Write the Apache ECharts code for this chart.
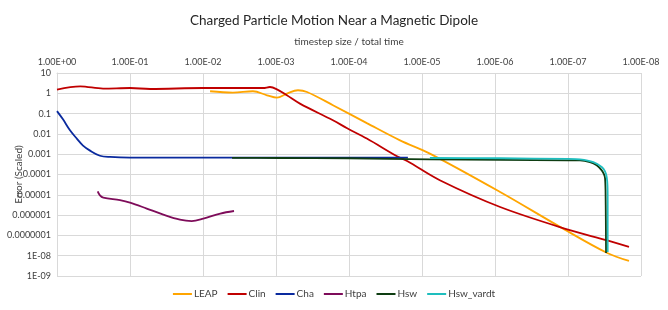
<!DOCTYPE html>
<html>
<head>
<meta charset="utf-8">
<script src="https://cdn.jsdelivr.net/npm/echarts@6/dist/echarts.min.js"></script>
<style>html,body{margin:0;padding:0;background:#fff}#c{width:668px;height:310px}</style>
</head>
<body>
<div id="c"></div>
<script>
const seriesNames = ['LEAP', 'Clin', 'Cha', 'Htpa', 'Hsw', 'Hsw_vardt'];
const xTickLabels = ['1.00E+00','1.00E-01','1.00E-02','1.00E-03','1.00E-04','1.00E-05','1.00E-06','1.00E-07','1.00E-08'];
const yTickLabels = ['1E-09','1E-08','0.0000001','0.000001','0.00001','0.0001','0.001','0.01','0.1','1','10'];

const leap = [[8.0e-3,1.26],[3.9e-3,1.08],[2.07e-3,1.26],[1.33e-3,0.80],[9.7e-4,0.61],[7.1e-4,0.97],[5.0e-4,1.41],[3.76e-4,1.16],[1.66e-4,0.26],[5.7e-5,0.034],[2.0e-5,0.0048],[7.8e-6,0.00107],[8.5e-7,1.37e-5],[1.17e-7,2.16e-7],[2.9e-8,1.36e-8],[1.46e-8,5.5e-9]];
const clin = [[1.0,1.52],[0.48,2.21],[0.234,1.71],[0.1,1.82],[0.053,1.63],[0.01,1.82],[0.0015,1.82],[1.21e-3,2.04],[9.7e-4,1.57],[7.1e-4,0.80],[4.7e-4,0.31],[1.66e-4,0.047],[1.06e-4,0.019],[5.7e-5,0.0059],[2.2e-5,7.9e-4],[1.6e-5,4.6e-4],[5.7e-6,5.2e-5],[8.5e-7,2.5e-6],[1.0e-7,1.93e-7],[2.9e-8,5.7e-8],[1.46e-8,2.7e-8]];
const cha = [[1.0,0.133],[0.828,0.052],[0.664,0.015],[0.532,0.0057],[0.44,0.00266],[0.353,0.0015],[0.258,8.4e-4],[0.188,7.3e-4],[0.1,6.8e-4],[0.01,6.8e-4],[8.8e-4,6.8e-4],[1e-4,6.8e-4],[1.56e-5,6.8e-4]];
const htpa = [[0.277,1.49e-5],[0.258,9.4e-6],[0.232,7.3e-6],[0.137,5.4e-6],[0.1,4.1e-6],[0.059,2.1e-6],[0.035,1.06e-6],[0.0207,6.0e-7],[0.0143,5.1e-7],[0.0099,6.7e-7],[0.0058,1.19e-6],[0.00376,1.59e-6]];
const hsw = [[4.0e-3,6.65e-4],[8.8e-4,6.5e-4],[1e-4,6.3e-4],[7.8e-6,5.6e-4],[8.5e-7,5.3e-4],[1e-7,5.0e-4],[6.85e-8,5.0e-4],[5.0e-8,4.1e-4],[4.05e-8,2.84e-4],[3.45e-8,1.6e-4],[3.21e-8,1.02e-4],[3.11e-8,6.5e-5],[3.06e-8,1.67e-5],[3.03e-8,5.5e-7],[3.01e-8,1.36e-8]];
const hswVardt = [[7.8e-6,6.5e-4],[8.5e-7,6.3e-4],[1e-7,5.9e-4],[6.85e-8,5.6e-4],[4.5e-8,4.1e-4],[3.45e-8,2.34e-4],[3.11e-8,1.44e-4],[2.95e-8,7.5e-5],[2.88e-8,2.94e-5],[2.86e-8,5.4e-6],[2.86e-8,1.52e-8]];

const seriesData = [leap, clin, cha, htpa, hsw, hswVardt];
const colors = ['#FFA500', '#C00000', '#0A2A9E', '#7E0C5A', '#0E3D12', '#1EBEBE'];
const smoothing = [0.35, 0.35, 0.35, 0.35, 0.2, 0.2];

const chart = echarts.init(document.getElementById('c'));
const fontFam = 'Lato, "Open Sans", sans-serif';
chart.setOption({
  animation: false,
  title: {
    text: 'Charged Particle Motion Near a Magnetic Dipole',
    left: 'center', top: 9,
    textStyle: { fontFamily: fontFam, fontSize: 13.5, fontWeight: 'normal', color: '#262626' }
  },
  legend: {
    bottom: 6, left: 'center',
    icon: 'rect', itemWidth: 19, itemHeight: 2, itemGap: 10,
    textStyle: { fontFamily: fontFam, fontSize: 10, color: '#404040', padding: [0,0,0,-3] },
    data: seriesNames
  },
  grid: { left: 57, right: 27, top: 73, bottom: 34, containLabel: false, outerBoundsMode: 'none' },
  xAxis: {
    type: 'log', logBase: 10, min: 1e-8, max: 1, inverse: true, position: 'top',
    name: 'timestep size / total time', nameLocation: 'middle', nameGap: 26, nameMoveOverlap: false,
    nameTextStyle: { fontFamily: fontFam, fontSize: 10, color: '#404040' },
    axisLine: { show: true, lineStyle: { color: '#d9d9d9' } },
    axisTick: { show: false },
    axisLabel: { fontFamily: fontFam, fontSize: 9, color: '#404040', margin: 6,
      formatter: v => xTickLabels[Math.round(-Math.log10(v))] },
    splitLine: { show: true, lineStyle: { color: '#d9d9d9', width: 1 } }
  },
  yAxis: {
    type: 'log', logBase: 10, min: 1e-9, max: 10,
    name: 'Error (Scaled)', nameLocation: 'middle', nameGap: 33, nameMoveOverlap: false,
    nameTextStyle: { fontFamily: fontFam, fontSize: 10, color: '#404040' },
    axisLine: { show: true, lineStyle: { color: '#d9d9d9' } },
    axisTick: { show: false },
    axisLabel: { fontFamily: fontFam, fontSize: 9, color: '#404040', margin: 6,
      formatter: v => yTickLabels[Math.round(Math.log10(v)) + 9] },
    splitLine: { show: true, lineStyle: { color: '#d9d9d9', width: 1 } }
  },
  series: seriesNames.map((n, i) => ({
    name: n, type: 'line', data: seriesData[i], showSymbol: false, symbol: 'none',
    smooth: smoothing[i], color: colors[i],
    lineStyle: { width: 1.8, color: colors[i] }
  }))
});
</script>
</body>
</html>
